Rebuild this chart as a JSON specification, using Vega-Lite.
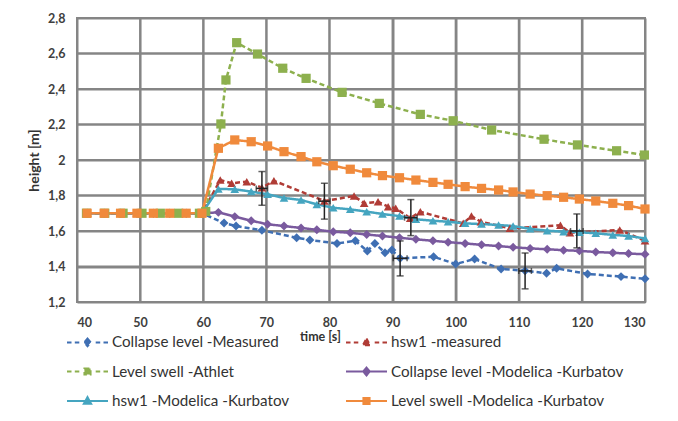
{
  "$schema": "https://vega.github.io/schema/vega-lite/v6.json",
  "width": 568,
  "height": 284,
  "autosize": {"type": "none"},
  "padding": {"left": 77, "top": 18, "right": 33, "bottom": 119},
  "background": "white",
  "datasets": {
    "gridx": [{"v": 40}, {"v": 50}, {"v": 60}, {"v": 70}, {"v": 80}, {"v": 90}, {"v": 100}, {"v": 110}, {"v": 120}, {"v": 130}],
    "gridy": [{"v": 1.2}, {"v": 1.4}, {"v": 1.6}, {"v": 1.8}, {"v": 2.0}, {"v": 2.2}, {"v": 2.4}, {"v": 2.6}, {"v": 2.8}],
    "series": [
      {"s": "Collapse level -Measured", "t": 41.6, "h": 1.7}, {"s": "Collapse level -Measured", "t": 44.3, "h": 1.7}, {"s": "Collapse level -Measured", "t": 46.9, "h": 1.7}, {"s": "Collapse level -Measured", "t": 49.5, "h": 1.7}, {"s": "Collapse level -Measured", "t": 52.1, "h": 1.7}, {"s": "Collapse level -Measured", "t": 54.7, "h": 1.7}, {"s": "Collapse level -Measured", "t": 57.3, "h": 1.7}, {"s": "Collapse level -Measured", "t": 59.8, "h": 1.7},
      {"s": "Collapse level -Measured", "t": 63.3, "h": 1.645}, {"s": "Collapse level -Measured", "t": 65.2, "h": 1.628}, {"s": "Collapse level -Measured", "t": 69.3, "h": 1.604}, {"s": "Collapse level -Measured", "t": 74.8, "h": 1.562}, {"s": "Collapse level -Measured", "t": 76.9, "h": 1.549}, {"s": "Collapse level -Measured", "t": 81.2, "h": 1.53}, {"s": "Collapse level -Measured", "t": 84.1, "h": 1.545}, {"s": "Collapse level -Measured", "t": 86.0, "h": 1.487}, {"s": "Collapse level -Measured", "t": 87.2, "h": 1.53}, {"s": "Collapse level -Measured", "t": 88.8, "h": 1.478}, {"s": "Collapse level -Measured", "t": 89.9, "h": 1.493}, {"s": "Collapse level -Measured", "t": 91.2, "h": 1.446}, {"s": "Collapse level -Measured", "t": 96.5, "h": 1.455}, {"s": "Collapse level -Measured", "t": 100.0, "h": 1.414}, {"s": "Collapse level -Measured", "t": 103.0, "h": 1.442}, {"s": "Collapse level -Measured", "t": 107.2, "h": 1.386}, {"s": "Collapse level -Measured", "t": 111.0, "h": 1.376}, {"s": "Collapse level -Measured", "t": 114.4, "h": 1.362}, {"s": "Collapse level -Measured", "t": 116.0, "h": 1.39}, {"s": "Collapse level -Measured", "t": 120.9, "h": 1.358}, {"s": "Collapse level -Measured", "t": 126.2, "h": 1.343}, {"s": "Collapse level -Measured", "t": 130.0, "h": 1.331},

      {"s": "hsw1 -measured", "t": 41.6, "h": 1.7}, {"s": "hsw1 -measured", "t": 44.3, "h": 1.7}, {"s": "hsw1 -measured", "t": 46.9, "h": 1.7}, {"s": "hsw1 -measured", "t": 49.5, "h": 1.7}, {"s": "hsw1 -measured", "t": 52.1, "h": 1.7}, {"s": "hsw1 -measured", "t": 54.7, "h": 1.7}, {"s": "hsw1 -measured", "t": 57.3, "h": 1.7}, {"s": "hsw1 -measured", "t": 59.8, "h": 1.7},
      {"s": "hsw1 -measured", "t": 62.7, "h": 1.887}, {"s": "hsw1 -measured", "t": 64.5, "h": 1.869}, {"s": "hsw1 -measured", "t": 66.9, "h": 1.878}, {"s": "hsw1 -measured", "t": 69.3, "h": 1.844}, {"s": "hsw1 -measured", "t": 71.2, "h": 1.883}, {"s": "hsw1 -measured", "t": 79.2, "h": 1.769}, {"s": "hsw1 -measured", "t": 83.9, "h": 1.797}, {"s": "hsw1 -measured", "t": 85.5, "h": 1.756}, {"s": "hsw1 -measured", "t": 87.7, "h": 1.765}, {"s": "hsw1 -measured", "t": 89.3, "h": 1.737}, {"s": "hsw1 -measured", "t": 90.5, "h": 1.728}, {"s": "hsw1 -measured", "t": 92.8, "h": 1.672}, {"s": "hsw1 -measured", "t": 94.4, "h": 1.708}, {"s": "hsw1 -measured", "t": 101.2, "h": 1.643}, {"s": "hsw1 -measured", "t": 102.5, "h": 1.684}, {"s": "hsw1 -measured", "t": 104.0, "h": 1.652}, {"s": "hsw1 -measured", "t": 108.6, "h": 1.615}, {"s": "hsw1 -measured", "t": 116.6, "h": 1.632}, {"s": "hsw1 -measured", "t": 118.1, "h": 1.59}, {"s": "hsw1 -measured", "t": 126.0, "h": 1.606}, {"s": "hsw1 -measured", "t": 130.0, "h": 1.545},

      {"s": "Level swell -Athlet", "t": 41.5, "h": 1.7}, {"s": "Level swell -Athlet", "t": 44.4, "h": 1.7}, {"s": "Level swell -Athlet", "t": 47.3, "h": 1.7}, {"s": "Level swell -Athlet", "t": 50.3, "h": 1.7}, {"s": "Level swell -Athlet", "t": 53.2, "h": 1.7}, {"s": "Level swell -Athlet", "t": 56.1, "h": 1.7}, {"s": "Level swell -Athlet", "t": 59.4, "h": 1.7}, {"s": "Level swell -Athlet", "t": 60.4, "h": 1.71},
      {"s": "Level swell -Athlet", "t": 62.8, "h": 2.203}, {"s": "Level swell -Athlet", "t": 63.6, "h": 2.451}, {"s": "Level swell -Athlet", "t": 65.3, "h": 2.661}, {"s": "Level swell -Athlet", "t": 68.6, "h": 2.597}, {"s": "Level swell -Athlet", "t": 72.6, "h": 2.517}, {"s": "Level swell -Athlet", "t": 76.3, "h": 2.46}, {"s": "Level swell -Athlet", "t": 82.0, "h": 2.381}, {"s": "Level swell -Athlet", "t": 87.9, "h": 2.319}, {"s": "Level swell -Athlet", "t": 94.4, "h": 2.257}, {"s": "Level swell -Athlet", "t": 99.6, "h": 2.221}, {"s": "Level swell -Athlet", "t": 105.7, "h": 2.169}, {"s": "Level swell -Athlet", "t": 114.0, "h": 2.117}, {"s": "Level swell -Athlet", "t": 119.3, "h": 2.085}, {"s": "Level swell -Athlet", "t": 125.5, "h": 2.052}, {"s": "Level swell -Athlet", "t": 129.9, "h": 2.028},

      {"s": "Collapse level -Modelica -Kurbatov", "t": 41.6, "h": 1.7}, {"s": "Collapse level -Modelica -Kurbatov", "t": 44.3, "h": 1.7}, {"s": "Collapse level -Modelica -Kurbatov", "t": 46.9, "h": 1.7}, {"s": "Collapse level -Modelica -Kurbatov", "t": 49.5, "h": 1.7}, {"s": "Collapse level -Modelica -Kurbatov", "t": 52.1, "h": 1.7}, {"s": "Collapse level -Modelica -Kurbatov", "t": 54.7, "h": 1.7}, {"s": "Collapse level -Modelica -Kurbatov", "t": 57.3, "h": 1.7}, {"s": "Collapse level -Modelica -Kurbatov", "t": 59.8, "h": 1.7},
      {"s": "Collapse level -Modelica -Kurbatov", "t": 62.4, "h": 1.705}, {"s": "Collapse level -Modelica -Kurbatov", "t": 65.0, "h": 1.681}, {"s": "Collapse level -Modelica -Kurbatov", "t": 67.6, "h": 1.658}, {"s": "Collapse level -Modelica -Kurbatov", "t": 70.2, "h": 1.638}, {"s": "Collapse level -Modelica -Kurbatov", "t": 72.8, "h": 1.628}, {"s": "Collapse level -Modelica -Kurbatov", "t": 75.5, "h": 1.617}, {"s": "Collapse level -Modelica -Kurbatov", "t": 78.0, "h": 1.607}, {"s": "Collapse level -Modelica -Kurbatov", "t": 80.6, "h": 1.596}, {"s": "Collapse level -Modelica -Kurbatov", "t": 83.3, "h": 1.59}, {"s": "Collapse level -Modelica -Kurbatov", "t": 85.9, "h": 1.58}, {"s": "Collapse level -Modelica -Kurbatov", "t": 88.4, "h": 1.572}, {"s": "Collapse level -Modelica -Kurbatov", "t": 91.1, "h": 1.562}, {"s": "Collapse level -Modelica -Kurbatov", "t": 93.7, "h": 1.553}, {"s": "Collapse level -Modelica -Kurbatov", "t": 96.4, "h": 1.545}, {"s": "Collapse level -Modelica -Kurbatov", "t": 98.8, "h": 1.537}, {"s": "Collapse level -Modelica -Kurbatov", "t": 101.5, "h": 1.53}, {"s": "Collapse level -Modelica -Kurbatov", "t": 104.1, "h": 1.522}, {"s": "Collapse level -Modelica -Kurbatov", "t": 106.8, "h": 1.515}, {"s": "Collapse level -Modelica -Kurbatov", "t": 109.1, "h": 1.508}, {"s": "Collapse level -Modelica -Kurbatov", "t": 111.8, "h": 1.502}, {"s": "Collapse level -Modelica -Kurbatov", "t": 114.5, "h": 1.497}, {"s": "Collapse level -Modelica -Kurbatov", "t": 117.1, "h": 1.492}, {"s": "Collapse level -Modelica -Kurbatov", "t": 119.6, "h": 1.488}, {"s": "Collapse level -Modelica -Kurbatov", "t": 122.2, "h": 1.482}, {"s": "Collapse level -Modelica -Kurbatov", "t": 124.9, "h": 1.477}, {"s": "Collapse level -Modelica -Kurbatov", "t": 127.4, "h": 1.473}, {"s": "Collapse level -Modelica -Kurbatov", "t": 130.0, "h": 1.469},

      {"s": "hsw1 -Modelica -Kurbatov", "t": 41.6, "h": 1.7}, {"s": "hsw1 -Modelica -Kurbatov", "t": 44.3, "h": 1.7}, {"s": "hsw1 -Modelica -Kurbatov", "t": 46.9, "h": 1.7}, {"s": "hsw1 -Modelica -Kurbatov", "t": 49.5, "h": 1.7}, {"s": "hsw1 -Modelica -Kurbatov", "t": 52.1, "h": 1.7}, {"s": "hsw1 -Modelica -Kurbatov", "t": 54.7, "h": 1.7}, {"s": "hsw1 -Modelica -Kurbatov", "t": 57.3, "h": 1.7}, {"s": "hsw1 -Modelica -Kurbatov", "t": 59.8, "h": 1.7},
      {"s": "hsw1 -Modelica -Kurbatov", "t": 62.4, "h": 1.837}, {"s": "hsw1 -Modelica -Kurbatov", "t": 65.0, "h": 1.835}, {"s": "hsw1 -Modelica -Kurbatov", "t": 67.6, "h": 1.822}, {"s": "hsw1 -Modelica -Kurbatov", "t": 70.2, "h": 1.807}, {"s": "hsw1 -Modelica -Kurbatov", "t": 72.8, "h": 1.786}, {"s": "hsw1 -Modelica -Kurbatov", "t": 75.5, "h": 1.775}, {"s": "hsw1 -Modelica -Kurbatov", "t": 78.0, "h": 1.75}, {"s": "hsw1 -Modelica -Kurbatov", "t": 80.6, "h": 1.731}, {"s": "hsw1 -Modelica -Kurbatov", "t": 83.3, "h": 1.722}, {"s": "hsw1 -Modelica -Kurbatov", "t": 85.9, "h": 1.709}, {"s": "hsw1 -Modelica -Kurbatov", "t": 88.4, "h": 1.696}, {"s": "hsw1 -Modelica -Kurbatov", "t": 91.1, "h": 1.684}, {"s": "hsw1 -Modelica -Kurbatov", "t": 93.7, "h": 1.666}, {"s": "hsw1 -Modelica -Kurbatov", "t": 96.4, "h": 1.658}, {"s": "hsw1 -Modelica -Kurbatov", "t": 98.8, "h": 1.652}, {"s": "hsw1 -Modelica -Kurbatov", "t": 101.5, "h": 1.643}, {"s": "hsw1 -Modelica -Kurbatov", "t": 104.1, "h": 1.639}, {"s": "hsw1 -Modelica -Kurbatov", "t": 106.8, "h": 1.634}, {"s": "hsw1 -Modelica -Kurbatov", "t": 109.1, "h": 1.628}, {"s": "hsw1 -Modelica -Kurbatov", "t": 111.8, "h": 1.612}, {"s": "hsw1 -Modelica -Kurbatov", "t": 114.5, "h": 1.602}, {"s": "hsw1 -Modelica -Kurbatov", "t": 117.1, "h": 1.596}, {"s": "hsw1 -Modelica -Kurbatov", "t": 119.6, "h": 1.593}, {"s": "hsw1 -Modelica -Kurbatov", "t": 122.2, "h": 1.587}, {"s": "hsw1 -Modelica -Kurbatov", "t": 124.9, "h": 1.578}, {"s": "hsw1 -Modelica -Kurbatov", "t": 127.4, "h": 1.572}, {"s": "hsw1 -Modelica -Kurbatov", "t": 130.0, "h": 1.558},

      {"s": "Level swell -Modelica -Kurbatov", "t": 41.6, "h": 1.7}, {"s": "Level swell -Modelica -Kurbatov", "t": 44.3, "h": 1.7}, {"s": "Level swell -Modelica -Kurbatov", "t": 46.9, "h": 1.7}, {"s": "Level swell -Modelica -Kurbatov", "t": 49.5, "h": 1.7}, {"s": "Level swell -Modelica -Kurbatov", "t": 52.1, "h": 1.7}, {"s": "Level swell -Modelica -Kurbatov", "t": 54.7, "h": 1.7}, {"s": "Level swell -Modelica -Kurbatov", "t": 57.3, "h": 1.7}, {"s": "Level swell -Modelica -Kurbatov", "t": 59.8, "h": 1.7},
      {"s": "Level swell -Modelica -Kurbatov", "t": 62.4, "h": 2.066}, {"s": "Level swell -Modelica -Kurbatov", "t": 65.0, "h": 2.113}, {"s": "Level swell -Modelica -Kurbatov", "t": 67.6, "h": 2.103}, {"s": "Level swell -Modelica -Kurbatov", "t": 70.2, "h": 2.079}, {"s": "Level swell -Modelica -Kurbatov", "t": 72.8, "h": 2.047}, {"s": "Level swell -Modelica -Kurbatov", "t": 75.5, "h": 2.019}, {"s": "Level swell -Modelica -Kurbatov", "t": 78.0, "h": 1.99}, {"s": "Level swell -Modelica -Kurbatov", "t": 80.6, "h": 1.968}, {"s": "Level swell -Modelica -Kurbatov", "t": 83.3, "h": 1.948}, {"s": "Level swell -Modelica -Kurbatov", "t": 85.9, "h": 1.928}, {"s": "Level swell -Modelica -Kurbatov", "t": 88.4, "h": 1.912}, {"s": "Level swell -Modelica -Kurbatov", "t": 91.1, "h": 1.9}, {"s": "Level swell -Modelica -Kurbatov", "t": 93.7, "h": 1.887}, {"s": "Level swell -Modelica -Kurbatov", "t": 96.4, "h": 1.874}, {"s": "Level swell -Modelica -Kurbatov", "t": 98.8, "h": 1.863}, {"s": "Level swell -Modelica -Kurbatov", "t": 101.5, "h": 1.85}, {"s": "Level swell -Modelica -Kurbatov", "t": 104.1, "h": 1.84}, {"s": "Level swell -Modelica -Kurbatov", "t": 106.8, "h": 1.831}, {"s": "Level swell -Modelica -Kurbatov", "t": 109.1, "h": 1.82}, {"s": "Level swell -Modelica -Kurbatov", "t": 111.8, "h": 1.808}, {"s": "Level swell -Modelica -Kurbatov", "t": 114.5, "h": 1.799}, {"s": "Level swell -Modelica -Kurbatov", "t": 117.1, "h": 1.79}, {"s": "Level swell -Modelica -Kurbatov", "t": 119.6, "h": 1.78}, {"s": "Level swell -Modelica -Kurbatov", "t": 122.2, "h": 1.769}, {"s": "Level swell -Modelica -Kurbatov", "t": 124.9, "h": 1.756}, {"s": "Level swell -Modelica -Kurbatov", "t": 127.4, "h": 1.743}, {"s": "Level swell -Modelica -Kurbatov", "t": 130.0, "h": 1.724}
    ],
    "errors": [
      {"t": 69.3, "h": 1.84, "lo": 1.745, "hi": 1.935, "tlo": 68.4, "thi": 70.2},
      {"t": 79.2, "h": 1.768, "lo": 1.667, "hi": 1.869, "tlo": 78.3, "thi": 80.1},
      {"t": 92.9, "h": 1.675, "lo": 1.574, "hi": 1.777, "tlo": 91.9, "thi": 93.9},
      {"t": 119.2, "h": 1.6, "lo": 1.505, "hi": 1.696, "tlo": 118.2, "thi": 120.2},
      {"t": 91.2, "h": 1.446, "lo": 1.347, "hi": 1.544, "tlo": 90.1, "thi": 92.3},
      {"t": 111.0, "h": 1.375, "lo": 1.274, "hi": 1.476, "tlo": 110.0, "thi": 112.0}
    ]
  },
  "layer": [
    {
      "data": {"name": "gridx"},
      "mark": {"type": "rule", "color": "#858585", "strokeWidth": 2},
      "encoding": {
        "x": {"field": "v", "type": "quantitative", "title": "time [s]", "scale": {"domain": [40, 130], "nice": false, "zero": false},
              "axis": {"values": [40, 50, 60, 70, 80, 90, 100, 110, 120, 130], "labelOverlap": false, "titleX": 243, "titleY": 34, "titleAlign": "center", "titleBaseline": "middle"}}
      }
    },
    {
      "data": {"name": "gridy"},
      "mark": {"type": "rule", "color": "#858585", "strokeWidth": 2},
      "encoding": {
        "y": {"field": "v", "type": "quantitative", "title": "height [m]", "scale": {"domain": [1.2, 2.8], "nice": false, "zero": false},
              "axis": {"values": [1.2, 1.4, 1.6, 1.8, 2.0, 2.2, 2.4, 2.6, 2.8], "format": ".1~f", "labelOverlap": false}}
      }
    },
    {
      "data": {"name": "series"},
      "mark": {"type": "line", "strokeWidth": 2.5, "clip": true},
      "encoding": {
        "x": {"field": "t", "type": "quantitative", "title": "time [s]", "scale": {"domain": [40, 130], "nice": false, "zero": false},
              "axis": {"values": [40, 50, 60, 70, 80, 90, 100, 110, 120, 130], "labelOverlap": false, "titleX": 243, "titleY": 34, "titleAlign": "center", "titleBaseline": "middle"}},
        "y": {"field": "h", "type": "quantitative", "title": "height [m]", "scale": {"domain": [1.2, 2.8], "nice": false, "zero": false},
              "axis": {"values": [1.2, 1.4, 1.6, 1.8, 2.0, 2.2, 2.4, 2.6, 2.8], "format": ".1~f", "labelOverlap": false}},
        "color": {"field": "s", "type": "nominal", "sort": null,
          "scale": {"domain": ["Collapse level -Measured", "Level swell -Athlet", "hsw1 -Modelica -Kurbatov", "hsw1 -measured", "Collapse level -Modelica -Kurbatov", "Level swell -Modelica -Kurbatov"],
                    "range": ["#3F6FB3", "#8DB04E", "#45A5C0", "#B03C36", "#7A5A9E", "#F08A3C"]}},
        "strokeDash": {"field": "s", "type": "nominal", "legend": null,
          "scale": {"domain": ["Collapse level -Measured", "Level swell -Athlet", "hsw1 -Modelica -Kurbatov", "hsw1 -measured", "Collapse level -Modelica -Kurbatov", "Level swell -Modelica -Kurbatov"],
                    "range": [[5, 3], [5, 3], [1, 0], [5, 3], [1, 0], [1, 0]]}}
      }
    },
    {
      "data": {"name": "series"},
      "transform": [{"filter": "datum.t > 1000"}],
      "mark": {"type": "point", "filled": false},
      "encoding": {
        "x": {"field": "t", "type": "quantitative", "title": "time [s]", "axis": {"values": [40, 50, 60, 70, 80, 90, 100, 110, 120, 130], "labelOverlap": false, "titleX": 243, "titleY": 34, "titleAlign": "center", "titleBaseline": "middle"}},
        "y": {"field": "h", "type": "quantitative", "title": "height [m]", "axis": {"values": [1.2, 1.4, 1.6, 1.8, 2.0, 2.2, 2.4, 2.6, 2.8], "format": ".1~f", "labelOverlap": false}},
        "color": {"field": "s", "type": "nominal", "sort": null,
          "legend": {
            "title": null, "orient": "none", "legendX": -11, "legendY": 316, "columns": 2, "columnPadding": 55, "rowPadding": 12.5,
            "clipHeight": 16, "symbolSize": 1681, "symbolStrokeWidth": 2, "symbolOpacity": 1, "labelOffset": 3, "labelLimit": 400,
            "labelFont": "Lato", "labelFontSize": 15.2, "labelColor": "#333333"
          }},
        "shape": {"field": "s", "type": "nominal",
          "scale": {"domain": ["Collapse level -Measured", "Level swell -Athlet", "hsw1 -Modelica -Kurbatov", "hsw1 -measured", "Collapse level -Modelica -Kurbatov", "Level swell -Modelica -Kurbatov"],
                    "range": [
                      "M-1,0H-0.78M-0.62,0H-0.4M0.4,0H0.62M0.78,0H1M0,-0.19L0.16,0L0,0.19L-0.16,0ZM0,-0.08L0.07,0L0,0.08L-0.07,0ZM-0.16,0H0.16",
                      "M-1,0H-0.78M-0.62,0H-0.4M0.4,0H0.62M0.78,0H1M-0.15,-0.15H0.15V0.15H-0.15ZM-0.06,-0.06H0.06V0.06H-0.06Z",
                      "M-1,0H1M0,-0.19L0.18,0.14H-0.18ZM0,-0.06L0.07,0.08H-0.07Z",
                      "M-1,0H-0.78M-0.62,0H-0.4M0.4,0H0.62M0.78,0H1M0,-0.19L0.18,0.14H-0.18ZM0,-0.06L0.07,0.08H-0.07Z",
                      "M-1,0H1M0,-0.19L0.16,0L0,0.19L-0.16,0ZM0,-0.08L0.07,0L0,0.08L-0.07,0ZM-0.16,0H0.16",
                      "M-1,0H1M-0.15,-0.15H0.15V0.15H-0.15ZM-0.06,-0.06H0.06V0.06H-0.06Z"
                    ]}}
      }
    },
    {
      "data": {"name": "series"},
      "transform": [{"filter": {"field": "s", "oneOf": ["Collapse level -Measured", "Collapse level -Modelica -Kurbatov"]}}],
      "mark": {"type": "point", "shape": "diamond", "filled": true, "opacity": 1, "size": 80},
      "encoding": {
        "x": {"field": "t", "type": "quantitative", "title": "time [s]", "axis": {"values": [40, 50, 60, 70, 80, 90, 100, 110, 120, 130], "labelOverlap": false, "titleX": 243, "titleY": 34, "titleAlign": "center", "titleBaseline": "middle"}},
        "y": {"field": "h", "type": "quantitative", "title": "height [m]", "axis": {"values": [1.2, 1.4, 1.6, 1.8, 2.0, 2.2, 2.4, 2.6, 2.8], "format": ".1~f", "labelOverlap": false}},
        "color": {"field": "s", "type": "nominal", "sort": null}
      }
    },
    {
      "data": {"name": "series"},
      "transform": [{"filter": {"field": "s", "oneOf": ["hsw1 -measured", "hsw1 -Modelica -Kurbatov"]}}],
      "mark": {"type": "point", "shape": "triangle-up", "filled": true, "opacity": 1, "size": 75},
      "encoding": {
        "x": {"field": "t", "type": "quantitative", "title": "time [s]", "axis": {"values": [40, 50, 60, 70, 80, 90, 100, 110, 120, 130], "labelOverlap": false, "titleX": 243, "titleY": 34, "titleAlign": "center", "titleBaseline": "middle"}},
        "y": {"field": "h", "type": "quantitative", "title": "height [m]", "axis": {"values": [1.2, 1.4, 1.6, 1.8, 2.0, 2.2, 2.4, 2.6, 2.8], "format": ".1~f", "labelOverlap": false}},
        "color": {"field": "s", "type": "nominal", "sort": null}
      }
    },
    {
      "data": {"name": "series"},
      "transform": [{"filter": {"field": "s", "oneOf": ["Level swell -Athlet", "Level swell -Modelica -Kurbatov"]}}],
      "mark": {"type": "point", "shape": "square", "filled": true, "opacity": 1, "size": 85},
      "encoding": {
        "x": {"field": "t", "type": "quantitative", "title": "time [s]", "axis": {"values": [40, 50, 60, 70, 80, 90, 100, 110, 120, 130], "labelOverlap": false, "titleX": 243, "titleY": 34, "titleAlign": "center", "titleBaseline": "middle"}},
        "y": {"field": "h", "type": "quantitative", "title": "height [m]", "axis": {"values": [1.2, 1.4, 1.6, 1.8, 2.0, 2.2, 2.4, 2.6, 2.8], "format": ".1~f", "labelOverlap": false}},
        "color": {"field": "s", "type": "nominal", "sort": null}
      }
    },
    {
      "data": {"name": "errors"},
      "mark": {"type": "rule", "color": "#222222", "strokeWidth": 1.5},
      "encoding": {
        "x": {"field": "t", "type": "quantitative", "title": "time [s]", "axis": {"values": [40, 50, 60, 70, 80, 90, 100, 110, 120, 130], "labelOverlap": false, "titleX": 243, "titleY": 34, "titleAlign": "center", "titleBaseline": "middle"}},
        "y": {"field": "lo", "type": "quantitative", "title": "height [m]", "axis": {"values": [1.2, 1.4, 1.6, 1.8, 2.0, 2.2, 2.4, 2.6, 2.8], "format": ".1~f", "labelOverlap": false}},
        "y2": {"field": "hi"}
      }
    },
    {
      "data": {"name": "errors"},
      "mark": {"type": "rule", "color": "#222222", "strokeWidth": 1.5},
      "encoding": {
        "x": {"field": "tlo", "type": "quantitative", "title": "time [s]", "axis": {"values": [40, 50, 60, 70, 80, 90, 100, 110, 120, 130], "labelOverlap": false, "titleX": 243, "titleY": 34, "titleAlign": "center", "titleBaseline": "middle"}},
        "x2": {"field": "thi"},
        "y": {"field": "h", "type": "quantitative", "title": "height [m]", "axis": {"values": [1.2, 1.4, 1.6, 1.8, 2.0, 2.2, 2.4, 2.6, 2.8], "format": ".1~f", "labelOverlap": false}}
      }
    },
    {
      "data": {"name": "errors"},
      "mark": {"type": "tick", "color": "#222222", "orient": "horizontal", "thickness": 1.5, "size": 7},
      "encoding": {
        "x": {"field": "t", "type": "quantitative", "title": "time [s]", "axis": {"values": [40, 50, 60, 70, 80, 90, 100, 110, 120, 130], "labelOverlap": false, "titleX": 243, "titleY": 34, "titleAlign": "center", "titleBaseline": "middle"}},
        "y": {"field": "lo", "type": "quantitative", "title": "height [m]", "axis": {"values": [1.2, 1.4, 1.6, 1.8, 2.0, 2.2, 2.4, 2.6, 2.8], "format": ".1~f", "labelOverlap": false}}
      }
    },
    {
      "data": {"name": "errors"},
      "mark": {"type": "tick", "color": "#222222", "orient": "horizontal", "thickness": 1.5, "size": 7},
      "encoding": {
        "x": {"field": "t", "type": "quantitative", "title": "time [s]", "axis": {"values": [40, 50, 60, 70, 80, 90, 100, 110, 120, 130], "labelOverlap": false, "titleX": 243, "titleY": 34, "titleAlign": "center", "titleBaseline": "middle"}},
        "y": {"field": "hi", "type": "quantitative", "title": "height [m]", "axis": {"values": [1.2, 1.4, 1.6, 1.8, 2.0, 2.2, 2.4, 2.6, 2.8], "format": ".1~f", "labelOverlap": false}}
      }
    },
    {
      "data": {"name": "errors"},
      "mark": {"type": "tick", "color": "#222222", "orient": "vertical", "thickness": 1.5, "size": 6},
      "encoding": {
        "x": {"field": "tlo", "type": "quantitative", "title": "time [s]", "axis": {"values": [40, 50, 60, 70, 80, 90, 100, 110, 120, 130], "labelOverlap": false, "titleX": 243, "titleY": 34, "titleAlign": "center", "titleBaseline": "middle"}},
        "y": {"field": "h", "type": "quantitative", "title": "height [m]", "axis": {"values": [1.2, 1.4, 1.6, 1.8, 2.0, 2.2, 2.4, 2.6, 2.8], "format": ".1~f", "labelOverlap": false}}
      }
    },
    {
      "data": {"name": "errors"},
      "mark": {"type": "tick", "color": "#222222", "orient": "vertical", "thickness": 1.5, "size": 6},
      "encoding": {
        "x": {"field": "thi", "type": "quantitative", "title": "time [s]", "axis": {"values": [40, 50, 60, 70, 80, 90, 100, 110, 120, 130], "labelOverlap": false, "titleX": 243, "titleY": 34, "titleAlign": "center", "titleBaseline": "middle"}},
        "y": {"field": "h", "type": "quantitative", "title": "height [m]", "axis": {"values": [1.2, 1.4, 1.6, 1.8, 2.0, 2.2, 2.4, 2.6, 2.8], "format": ".1~f", "labelOverlap": false}}
      }
    }
  ],
  "config": {
    "locale": {"number": {"decimal": ",", "thousands": ".", "grouping": [3], "currency": ["", " €"]}},
    "view": {"stroke": "#858585", "strokeWidth": 2},
    "axis": {
      "domain": false, "ticks": false, "grid": true, "gridColor": "#858585", "gridWidth": 2, "gridOpacity": 1, "labelOverlap": false,
      "labelFont": "Lato", "labelFontSize": 12.5, "labelFontWeight": "bold", "labelColor": "#404040",
      "titleFont": "Lato", "titleFontSize": 12.5, "titleFontWeight": "bold", "titleColor": "#333333"
    },
    "axisX": {"labelPadding": 14},
    "axisY": {"labelPadding": 12, "titlePadding": 6, "titleFontSize": 14}
  }
}
